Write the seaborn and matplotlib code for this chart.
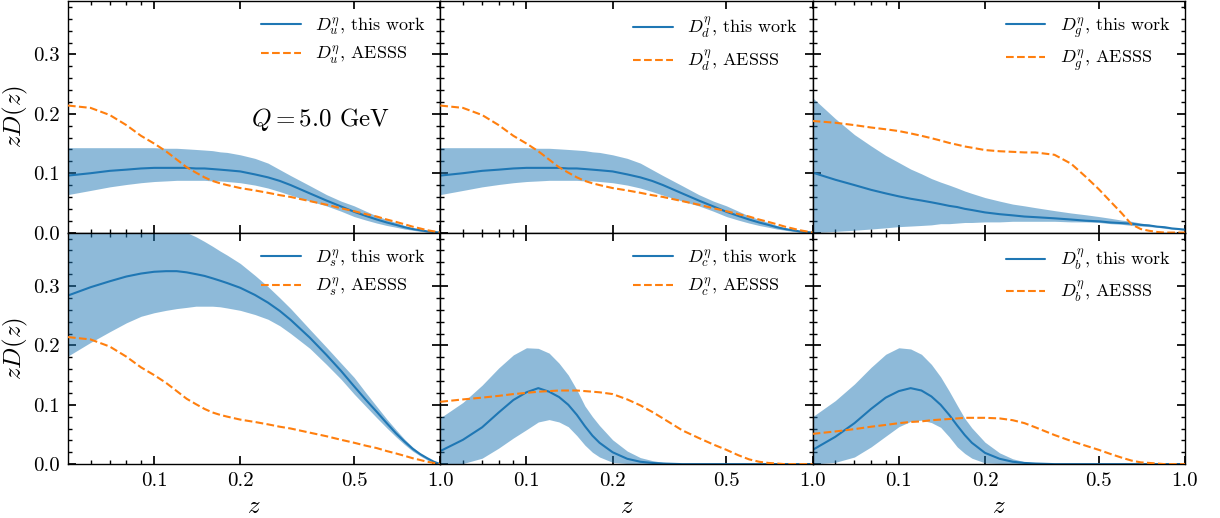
import numpy as np
import matplotlib
matplotlib.use("Agg")
import matplotlib.pyplot as plt
from matplotlib.ticker import FixedLocator, FixedFormatter, MultipleLocator, FormatStrFormatter, NullFormatter
import seaborn as sns

# momentum fraction grid
z = [0.05, 0.06, 0.07, 0.08, 0.09, 0.10, 0.11, 0.12, 0.13, 0.14, 0.15,
     0.16, 0.17, 0.18, 0.20, 0.225, 0.25, 0.275, 0.30, 0.35, 0.40, 0.45,
     0.50, 0.55, 0.60, 0.65, 0.70, 0.75, 0.80, 0.85, 0.90, 0.95, 1.00]

# u quark: central value, uncertainty band, AESSS
u_cen = [0.096, 0.100, 0.104, 0.106, 0.108, 0.109, 0.109, 0.109, 0.109, 0.108, 0.108,
         0.107, 0.106, 0.105, 0.103, 0.098, 0.093, 0.087, 0.080, 0.066, 0.054, 0.044,
         0.035, 0.028, 0.022, 0.017, 0.013, 0.009, 0.006, 0.004, 0.002, 0.001, 0.000]
u_hi = [0.143, 0.143, 0.143, 0.143, 0.143, 0.143, 0.142, 0.142, 0.141, 0.140, 0.139,
        0.138, 0.136, 0.135, 0.131, 0.125, 0.117, 0.106, 0.096, 0.079, 0.064, 0.053,
        0.045, 0.036, 0.028, 0.022, 0.017, 0.012, 0.008, 0.005, 0.003, 0.001, 0.000]
u_lo = [0.064, 0.071, 0.077, 0.081, 0.084, 0.086, 0.087, 0.088, 0.088, 0.088, 0.088,
        0.087, 0.087, 0.086, 0.084, 0.080, 0.075, 0.069, 0.063, 0.053, 0.045, 0.036,
        0.027, 0.021, 0.016, 0.012, 0.009, 0.006, 0.004, 0.002, 0.001, 0.0005, 0.000]
u_aesss = [0.214, 0.210, 0.198, 0.181, 0.163, 0.150, 0.137, 0.123, 0.110, 0.101, 0.093,
           0.087, 0.083, 0.080, 0.075, 0.071, 0.067, 0.063, 0.060, 0.053, 0.047, 0.041,
           0.036, 0.031, 0.027, 0.022, 0.018, 0.014, 0.010, 0.007, 0.004, 0.002, 0.000]

# d quark
d_cen = [0.096, 0.100, 0.104, 0.106, 0.108, 0.109, 0.109, 0.109, 0.109, 0.108, 0.108,
         0.107, 0.106, 0.105, 0.103, 0.098, 0.093, 0.087, 0.080, 0.066, 0.054, 0.044,
         0.035, 0.028, 0.022, 0.017, 0.013, 0.009, 0.006, 0.004, 0.002, 0.001, 0.000]
d_hi = [0.143, 0.143, 0.143, 0.143, 0.143, 0.143, 0.142, 0.142, 0.141, 0.140, 0.139,
        0.138, 0.136, 0.135, 0.131, 0.125, 0.117, 0.106, 0.096, 0.079, 0.064, 0.053,
        0.045, 0.036, 0.028, 0.022, 0.017, 0.012, 0.008, 0.005, 0.003, 0.001, 0.000]
d_lo = [0.064, 0.071, 0.077, 0.081, 0.084, 0.086, 0.087, 0.088, 0.088, 0.088, 0.088,
        0.087, 0.087, 0.086, 0.084, 0.080, 0.075, 0.069, 0.063, 0.053, 0.045, 0.036,
        0.027, 0.021, 0.016, 0.012, 0.009, 0.006, 0.004, 0.002, 0.001, 0.0005, 0.000]
d_aesss = [0.214, 0.210, 0.198, 0.181, 0.163, 0.150, 0.137, 0.123, 0.110, 0.101, 0.093,
           0.087, 0.083, 0.080, 0.075, 0.071, 0.067, 0.063, 0.060, 0.053, 0.047, 0.041,
           0.036, 0.031, 0.027, 0.022, 0.018, 0.014, 0.010, 0.007, 0.004, 0.002, 0.000]

# gluon
g_cen = [0.101, 0.089, 0.080, 0.072, 0.066, 0.061, 0.057, 0.054, 0.051, 0.048, 0.045,
         0.043, 0.040, 0.038, 0.034, 0.031, 0.029, 0.027, 0.026, 0.024, 0.022, 0.020,
         0.019, 0.017, 0.016, 0.015, 0.013, 0.012, 0.010, 0.009, 0.007, 0.006, 0.005]
g_hi = [0.227, 0.192, 0.165, 0.146, 0.130, 0.118, 0.107, 0.099, 0.091, 0.085, 0.080,
        0.075, 0.070, 0.066, 0.059, 0.053, 0.048, 0.045, 0.042, 0.037, 0.033, 0.030,
        0.027, 0.024, 0.021, 0.019, 0.016, 0.014, 0.011, 0.010, 0.008, 0.006, 0.005]
g_lo = [0.000, 0.002, 0.004, 0.006, 0.008, 0.010, 0.011, 0.012, 0.013, 0.015, 0.015,
        0.016, 0.017, 0.017, 0.018, 0.018, 0.019, 0.019, 0.019, 0.019, 0.018, 0.018,
        0.017, 0.015, 0.014, 0.012, 0.011, 0.010, 0.009, 0.007, 0.006, 0.005, 0.004]
g_aesss = [0.188, 0.185, 0.181, 0.177, 0.174, 0.171, 0.167, 0.163, 0.159, 0.155, 0.151,
           0.148, 0.145, 0.143, 0.139, 0.137, 0.136, 0.135, 0.135, 0.131, 0.116, 0.094,
           0.073, 0.052, 0.033, 0.014, 0.006, 0.003, 0.001, 0.000, 0.000, 0.000, 0.000]

# s quark
s_cen = [0.284, 0.298, 0.308, 0.316, 0.321, 0.324, 0.325, 0.325, 0.323, 0.320, 0.317,
         0.313, 0.309, 0.305, 0.297, 0.285, 0.272, 0.258, 0.243, 0.213, 0.184, 0.157,
         0.131, 0.108, 0.088, 0.069, 0.052, 0.038, 0.026, 0.017, 0.010, 0.004, 0.000]
s_hi = [0.400, 0.405, 0.408, 0.409, 0.406, 0.402, 0.398, 0.395, 0.390, 0.383, 0.375,
        0.367, 0.359, 0.352, 0.338, 0.318, 0.299, 0.280, 0.262, 0.227, 0.197, 0.170,
        0.146, 0.120, 0.097, 0.076, 0.058, 0.042, 0.029, 0.018, 0.010, 0.004, 0.000]
s_lo = [0.182, 0.205, 0.223, 0.238, 0.249, 0.255, 0.259, 0.262, 0.264, 0.266, 0.266,
        0.266, 0.265, 0.263, 0.259, 0.252, 0.244, 0.233, 0.220, 0.195, 0.168, 0.143,
        0.118, 0.097, 0.078, 0.061, 0.046, 0.033, 0.022, 0.014, 0.007, 0.003, 0.000]
s_aesss = [0.214, 0.210, 0.198, 0.181, 0.163, 0.150, 0.137, 0.123, 0.110, 0.101, 0.093,
           0.087, 0.083, 0.080, 0.075, 0.071, 0.067, 0.063, 0.060, 0.053, 0.047, 0.041,
           0.036, 0.031, 0.027, 0.022, 0.018, 0.014, 0.010, 0.007, 0.004, 0.002, 0.000]

# c quark
c_cen = [0.022, 0.041, 0.062, 0.087, 0.108, 0.121, 0.128, 0.122, 0.113, 0.100, 0.083,
         0.064, 0.048, 0.036, 0.020, 0.009, 0.004, 0.002, 0.001, 0.000, 0.000, 0.000,
         0.000, 0.000, 0.000, 0.000, 0.000, 0.000, 0.000, 0.000, 0.000, 0.000, 0.000]
c_hi = [0.078, 0.104, 0.133, 0.162, 0.184, 0.196, 0.195, 0.187, 0.170, 0.150, 0.125,
        0.098, 0.080, 0.065, 0.041, 0.022, 0.011, 0.006, 0.003, 0.001, 0.000, 0.000,
        0.000, 0.000, 0.000, 0.000, 0.000, 0.000, 0.000, 0.000, 0.000, 0.000, 0.000]
c_lo = [0.000, 0.001, 0.010, 0.027, 0.044, 0.058, 0.071, 0.075, 0.071, 0.063, 0.048,
        0.032, 0.020, 0.012, 0.003, 0.001, 0.000, 0.000, 0.000, 0.000, 0.000, 0.000,
        0.000, 0.000, 0.000, 0.000, 0.000, 0.000, 0.000, 0.000, 0.000, 0.000, 0.000]
c_aesss = [0.105, 0.109, 0.112, 0.115, 0.118, 0.120, 0.122, 0.123, 0.124, 0.124, 0.124,
           0.123, 0.122, 0.121, 0.118, 0.109, 0.099, 0.088, 0.077, 0.057, 0.044, 0.033,
           0.024, 0.015, 0.008, 0.004, 0.002, 0.001, 0.000, 0.000, 0.000, 0.000, 0.000]

# b quark
b_cen = [0.024, 0.046, 0.069, 0.093, 0.112, 0.123, 0.128, 0.124, 0.114, 0.100, 0.083,
         0.065, 0.049, 0.036, 0.019, 0.009, 0.004, 0.002, 0.001, 0.000, 0.000, 0.000,
         0.000, 0.000, 0.000, 0.000, 0.000, 0.000, 0.000, 0.000, 0.000, 0.000, 0.000]
b_hi = [0.080, 0.107, 0.135, 0.163, 0.185, 0.196, 0.194, 0.185, 0.168, 0.147, 0.123,
        0.099, 0.077, 0.061, 0.037, 0.019, 0.009, 0.004, 0.002, 0.001, 0.000, 0.000,
        0.000, 0.000, 0.000, 0.000, 0.000, 0.000, 0.000, 0.000, 0.000, 0.000, 0.000]
b_lo = [0.000, 0.003, 0.012, 0.029, 0.047, 0.063, 0.072, 0.074, 0.070, 0.062, 0.046,
        0.029, 0.018, 0.010, 0.002, 0.001, 0.000, 0.000, 0.000, 0.000, 0.000, 0.000,
        0.000, 0.000, 0.000, 0.000, 0.000, 0.000, 0.000, 0.000, 0.000, 0.000, 0.000]
b_aesss = [0.051, 0.055, 0.059, 0.063, 0.066, 0.069, 0.071, 0.072, 0.074, 0.075, 0.076,
           0.077, 0.078, 0.078, 0.078, 0.077, 0.074, 0.069, 0.062, 0.049, 0.039, 0.031,
           0.024, 0.017, 0.011, 0.006, 0.003, 0.002, 0.001, 0.000, 0.000, 0.000, 0.000]

flavours = ["u", "d", "g", "s", "c", "b"]
panels = {
    "u": (u_cen, u_lo, u_hi, u_aesss),
    "d": (d_cen, d_lo, d_hi, d_aesss),
    "g": (g_cen, g_lo, g_hi, g_aesss),
    "s": (s_cen, s_lo, s_hi, s_aesss),
    "c": (c_cen, c_lo, c_hi, c_aesss),
    "b": (b_cen, b_lo, b_hi, b_aesss),
}

x_ticks = [0.1, 0.2, 0.5, 1.0]
x_ticklabels = ["0.1", "0.2", "0.5", "1.0"]
x_minor = [0.06, 0.07, 0.08, 0.09]
y_ticks = [0.0, 0.1, 0.2, 0.3]

sns.set_theme(style="ticks")
plt.rcParams.update({
    "font.family": "serif",
    "font.serif": ["cmr10"],
    "mathtext.fontset": "cm",
    "axes.formatter.use_mathtext": True,
    "axes.edgecolor": "black",
    "axes.linewidth": 1.0,
    "xtick.direction": "in",
    "ytick.direction": "in",
    "xtick.top": True,
    "ytick.right": True,
    "xtick.major.size": 6,
    "ytick.major.size": 6,
    "xtick.minor.size": 3,
    "ytick.minor.size": 3,
    "xtick.color": "black",
    "ytick.color": "black",
    "text.color": "black",
    "axes.labelcolor": "black",
})

blue = "#1f77b4"
orange = "#ff7f0e"

fig, axes = plt.subplots(2, 3, figsize=(12.2, 5.18), dpi=100, sharex=True, sharey=True)
fig.subplots_adjust(left=0.0557, right=0.9713, top=0.998, bottom=0.104, wspace=0, hspace=0)

for ax, fl in zip(axes.flat, flavours):
    cen, lo, hi, ae = panels[fl]
    ax.fill_between(z, lo, hi, color=blue, alpha=0.5, linewidth=0, zorder=1)
    sns.lineplot(x=z, y=cen, ax=ax, color=blue, linewidth=1.5,
                 label=rf"$D_{fl}^\eta$, this work", zorder=2)
    sns.lineplot(x=z, y=ae, ax=ax, color=orange, linewidth=1.5, linestyle="--",
                 label=rf"$D_{fl}^\eta$, AESSS", zorder=3)
    ax.set_xscale("log")
    ax.set_xlim(0.05, 1.0)
    ax.set_ylim(0.0, 0.39)
    ax.xaxis.set_major_locator(FixedLocator(x_ticks))
    ax.xaxis.set_major_formatter(FixedFormatter(x_ticklabels))
    ax.xaxis.set_minor_locator(FixedLocator(x_minor))
    ax.xaxis.set_minor_formatter(NullFormatter())
    ax.yaxis.set_major_locator(FixedLocator(y_ticks))
    ax.yaxis.set_major_formatter(FormatStrFormatter("%.1f"))
    ax.yaxis.set_minor_locator(MultipleLocator(0.02))
    ax.tick_params(axis="both", which="both", direction="in", top=True, right=True,
                   labelsize=15, pad=6)
    ax.legend(loc="upper right", frameon=False, fontsize=13, handlelength=2.2,
              borderaxespad=0.4, labelspacing=0.45)
    ax.set_xlabel("")
    ax.set_ylabel("")

for ax in axes[1, :]:
    ax.set_xlabel(r"$z$", fontsize=18)
for ax in axes[:, 0]:
    ax.set_ylabel(r"$zD(z)$", fontsize=18, labelpad=2)

axes[0, 0].text(0.678, 0.49, r"$Q=5.0$ GeV", transform=axes[0, 0].transAxes,
                ha="center", va="center", fontsize=18)

fig.savefig("out.png", dpi=100)
